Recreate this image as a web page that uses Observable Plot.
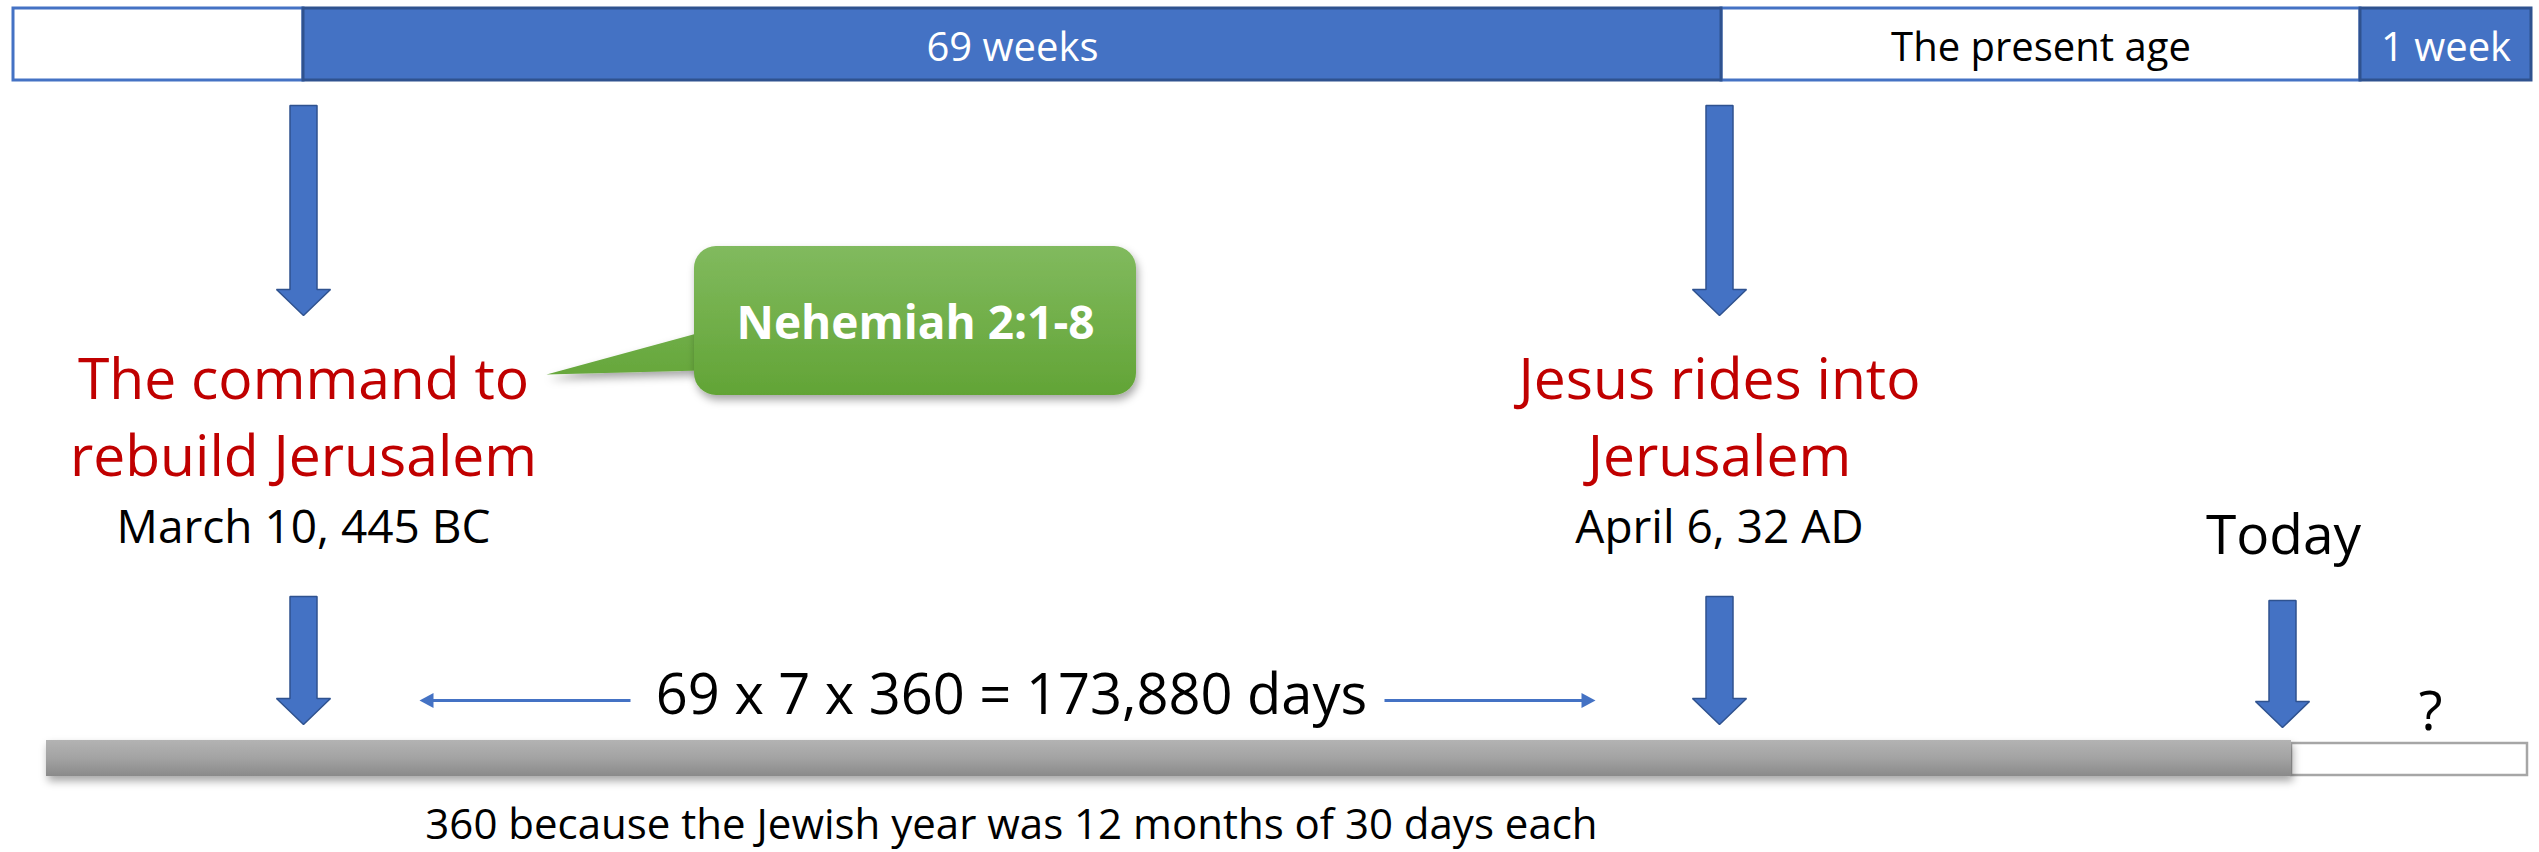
<!DOCTYPE html>
<html>
<head>
<meta charset="utf-8">
<script src="https://cdn.jsdelivr.net/npm/d3@7"></script>
<script src="https://cdn.jsdelivr.net/npm/@observablehq/plot@0.6"></script>
<style>
  html, body { margin: 0; padding: 0; background: #ffffff; }
  #chart svg { display: block; }
</style>
</head>
<body>
<div id="chart"></div>
<script>
// ---- data (diagram coordinates, 0..2539 x 0..852) ----
const segStart = [13, 303, 1721, 2360];
const segEnd   = [303, 1721, 2360, 2531];
const segLabel = ["", "69 weeks", "The present age", "1 week"];
const segKind  = ["open", "filled", "open", "filled"];
const topBarY  = [8, 80];

const arrowX   = [303, 1719, 303, 1719, 2282];
const arrowTop = [105, 105, 596, 596, 600];
const arrowTip = [315, 315, 724, 724, 727];

const eventX     = [303, 1719];
const eventTitle = ["The command to\nrebuild Jerusalem", "Jesus rides into\nJerusalem"];
const eventDate  = ["March 10, 445 BC", "April 6, 32 AD"];

const calloutText = ["Nehemiah 2:1-8"];
const calloutBox  = [694, 1136, 246, 395];      // x1, x2, y1, y2
const calloutTip  = [546, 374];                  // pointer tip
const calloutBase = [332, 370];                  // pointer base on box edge

const spanFrom = [630, 1384];
const spanTo   = [419, 1595];
const spanY    = 700;
const formula  = "69 x 7 x 360 = 173,880 days";

const pastBar   = [46, 2291, 740, 776];
const futureBar = [2291, 2527, 743, 775];
const todayX = 2283, questionX = 2430;
const caption = "360 because the Jewish year was 12 months of 30 days each";

// ---- derived tables ----
const segments = segStart.map((s, i) => ({x1: s, x2: segEnd[i], label: segLabel[i], kind: segKind[i]}));
const blockArrows = [];
arrowX.forEach((cx, i) => {
  const t = arrowTop[i], b = arrowTip[i], hl = 26, sw = 13.5, hw = 27;
  [[cx - sw, t], [cx + sw, t], [cx + sw, b - hl], [cx + hw, b - hl], [cx, b], [cx - hw, b - hl], [cx - sw, b - hl]]
    .forEach(([x, y]) => blockArrows.push({id: i, x, y}));
});
const spanHeads = [];
spanTo.forEach((tx, i) => {
  const dir = Math.sign(tx - spanFrom[i]), L = 14, H = 7.5;
  [[tx, spanY], [tx - dir * L, spanY - H], [tx - dir * L, spanY + H]].forEach(([x, y]) => spanHeads.push({id: i, x, y}));
});
const spans = spanFrom.map((f, i) => ({x1: f, x2: spanTo[i] - Math.sign(spanTo[i] - f) * 10}));
const pointer = [
  {x: calloutBox[0] + 6, y: calloutBase[0]},
  {x: calloutTip[0], y: calloutTip[1]},
  {x: calloutBox[0] + 6, y: calloutBase[1]}
];
const events = eventX.map((x, i) => ({x, title: eventTitle[i], date: eventDate[i]}));

const FONT = "'Open Sans', 'DejaVu Sans', sans-serif";

const svg = Plot.plot({
  width: 2539,
  height: 852,
  margin: 0,
  style: {background: "#ffffff", fontFamily: FONT},
  x: {domain: [0, 2539], range: [0, 2539], axis: null},
  y: {domain: [0, 852], range: [0, 852], axis: null},
  marks: [
    // top period bar
    Plot.rect(segments.filter(d => d.kind === "open"), {x1: "x1", x2: "x2", y1: topBarY[0], y2: topBarY[1], fill: "#ffffff", stroke: "#4472C4", strokeWidth: 3}),
    Plot.rect(segments.filter(d => d.kind === "filled"), {x1: "x1", x2: "x2", y1: topBarY[0], y2: topBarY[1], fill: "#4472C4", stroke: "#2F528F", strokeWidth: 3}),
    Plot.text(segments.filter(d => d.kind === "filled"), {x: d => (d.x1 + d.x2) / 2, y: 60, text: "label", fill: "#ffffff", fontSize: 40, fontFamily: FONT, lineAnchor: "bottom"}),
    Plot.text(segments.filter(d => d.kind === "open"), {x: d => (d.x1 + d.x2) / 2, y: 60, text: "label", fill: "#000000", fontSize: 40, fontFamily: FONT, lineAnchor: "bottom"}),

    // block arrows
    Plot.line(blockArrows, {x: "x", y: "y", z: "id", curve: "linear-closed", fill: "#4472C4", stroke: "#2F528F", strokeWidth: 1.5, strokeLinejoin: "miter"}),

    // event labels
    Plot.text(events, {x: "x", y: 475, text: "title", fill: "#C00000", fontSize: 57, lineHeight: 77 / 57, fontFamily: FONT, lineAnchor: "bottom"}),
    Plot.text(events, {x: "x", y: 542, text: "date", fill: "#000000", fontSize: 46, fontFamily: FONT, lineAnchor: "bottom"}),

    // callout
    Plot.line(pointer, {x: "x", y: "y", curve: "linear-closed", fill: "url(#greenGrad)", stroke: "none"}),
    Plot.rect(calloutText, {x1: calloutBox[0], x2: calloutBox[1], y1: calloutBox[2], y2: calloutBox[3], rx: 22, fill: "url(#greenGrad)"}),
    Plot.text(calloutText, {x: (calloutBox[0] + calloutBox[1]) / 2, y: 338, text: d => d, fill: "#ffffff", fontWeight: "bold", fontSize: 46, fontFamily: FONT, lineAnchor: "bottom"}),

    // span arrows + formula
    Plot.link(spans, {x1: "x1", x2: "x2", y1: spanY, y2: spanY, stroke: "#4472C4", strokeWidth: 3}),
    Plot.line(spanHeads, {x: "x", y: "y", z: "id", curve: "linear-closed", fill: "#4472C4", stroke: "none"}),
    Plot.text([formula], {x: (spanFrom[0] + spanFrom[1]) / 2 + 4, y: 713, text: d => d, fill: "#000000", fontSize: 56, fontFamily: FONT, lineAnchor: "bottom"}),

    // bottom timeline
    Plot.rect([futureBar], {x1: d => d[0], x2: d => d[1], y1: d => d[2], y2: d => d[3], fill: "#ffffff", stroke: "#A6A6A6", strokeWidth: 2.5}),
    Plot.rect([pastBar], {x1: d => d[0], x2: d => d[1], y1: d => d[2], y2: d => d[3], fill: "url(#barGrad)"}),
    Plot.text(["Today"], {x: todayX, y: 553, text: d => d, fill: "#000000", fontSize: 55, fontFamily: FONT, lineAnchor: "bottom"}),
    Plot.text(["?"], {x: questionX, y: 729, text: d => d, fill: "#000000", fontSize: 55, fontFamily: FONT, lineAnchor: "bottom"}),

    // caption
    Plot.text([caption], {x: (spanFrom[0] + spanFrom[1]) / 2 + 4, y: 838, text: d => d, fill: "#000000", fontSize: 42, fontFamily: FONT, lineAnchor: "bottom"})
  ]
});

// gradients and shadow
const s = d3.select(svg);
const defs = s.insert("defs", ":first-child");
const g1 = defs.append("linearGradient").attr("id", "greenGrad").attr("gradientUnits", "userSpaceOnUse")
  .attr("x1", 0).attr("x2", 0).attr("y1", calloutBox[2]).attr("y2", calloutBox[3]);
g1.append("stop").attr("offset", "0").attr("stop-color", "#81BA5E");
g1.append("stop").attr("offset", "1").attr("stop-color", "#62A436");
const g2 = defs.append("linearGradient").attr("id", "barGrad").attr("x1", 0).attr("x2", 0).attr("y1", 0).attr("y2", 1);
g2.append("stop").attr("offset", "0").attr("stop-color", "#B3B3B3");
g2.append("stop").attr("offset", "0.5").attr("stop-color", "#A3A3A3");
g2.append("stop").attr("offset", "1").attr("stop-color", "#8A8A8A");
const f = defs.append("filter").attr("id", "shadow").attr("x", "-5%").attr("y", "-20%").attr("width", "115%").attr("height", "160%");
f.append("feDropShadow").attr("dx", 2).attr("dy", 5).attr("stdDeviation", 4).attr("flood-color", "#000").attr("flood-opacity", 0.35);
s.selectAll('g[fill="url(#greenGrad)"], g[fill="url(#barGrad)"]').attr("filter", "url(#shadow)");

document.getElementById("chart").appendChild(svg);
</script>
</body>
</html>
